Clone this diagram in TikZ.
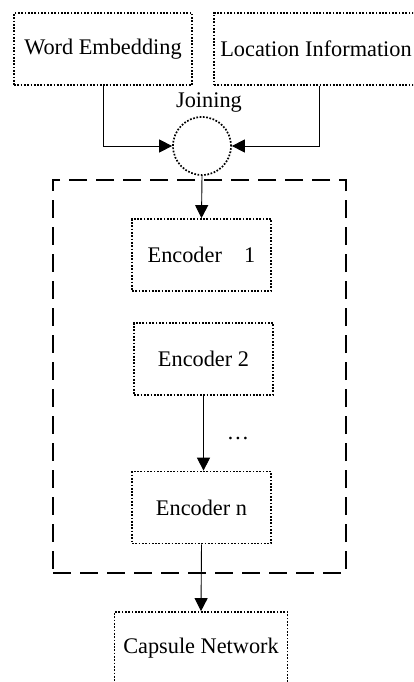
\documentclass[tikz,border=0pt]{standalone}
\usepackage{fontspec}
\setmainfont{Liberation Serif}
\usetikzlibrary{positioning,arrows.meta}

\begin{document}
\begin{tikzpicture}[x=1pt, y=-1pt,
  every node/.style={font=\fontsize{22.3}{26}\selectfont},
  blk/.style={draw, line width=1.7pt, dash pattern=on 1.7pt off 1.6pt,
              minimum height=72pt, align=center, inner sep=0pt},
  enc/.style={blk, minimum width=139pt},
  jn/.style={circle, draw, line width=1.7pt, dash pattern=on 1.7pt off 1.6pt,
             minimum size=58pt, inner sep=0pt},
  grp/.style={draw, line width=2pt, dash pattern=on 18pt off 9pt,
              minimum width=293pt, minimum height=393pt, inner sep=0pt},
  arr/.style={-{Triangle[length=13pt,width=13pt]}, line width=0.9pt},
]
  \clip (0,0) rectangle (413,682);
  \useasboundingbox (0,0) rectangle (413,682);

  % Inputs
  \node[blk, minimum width=178pt] (word) at (103,49) {Word Embedding};
  \node[blk, minimum width=204pt] (loc)  at (316,49) {Location Information};

  % Joining point
  \node[jn] (join) at (202,146) {};
  \node (joinlbl) at (209,103) {Joining};

  % Encoder stack
  \node[grp] (stack) at (199.5,376.5) {};
  \node[enc] (enc1) at (201.5,255) {Encoder\quad 1};
  \node[enc] (enc2) at (203.5,359) {Encoder 2};
  \node[enc] (encn) at (201.5,507.5) {Encoder n};
  \node (dots) at (238,438) {\dots};

  % Output
  \node[blk, minimum width=173pt] (caps) at (201,648) {Capsule Network};

  % Arrows
  \draw[arr] (word.south) |- (join.west);
  \draw[arr] ([xshift=3pt]loc.south) |- (join.east);
  \draw[arr] (join.south) -- (enc1.north);
  \draw[arr] (enc2.south) -- (enc2.south |- encn.north);
  \draw[arr] (encn.south) -- (caps.north);
\end{tikzpicture}
\end{document}
